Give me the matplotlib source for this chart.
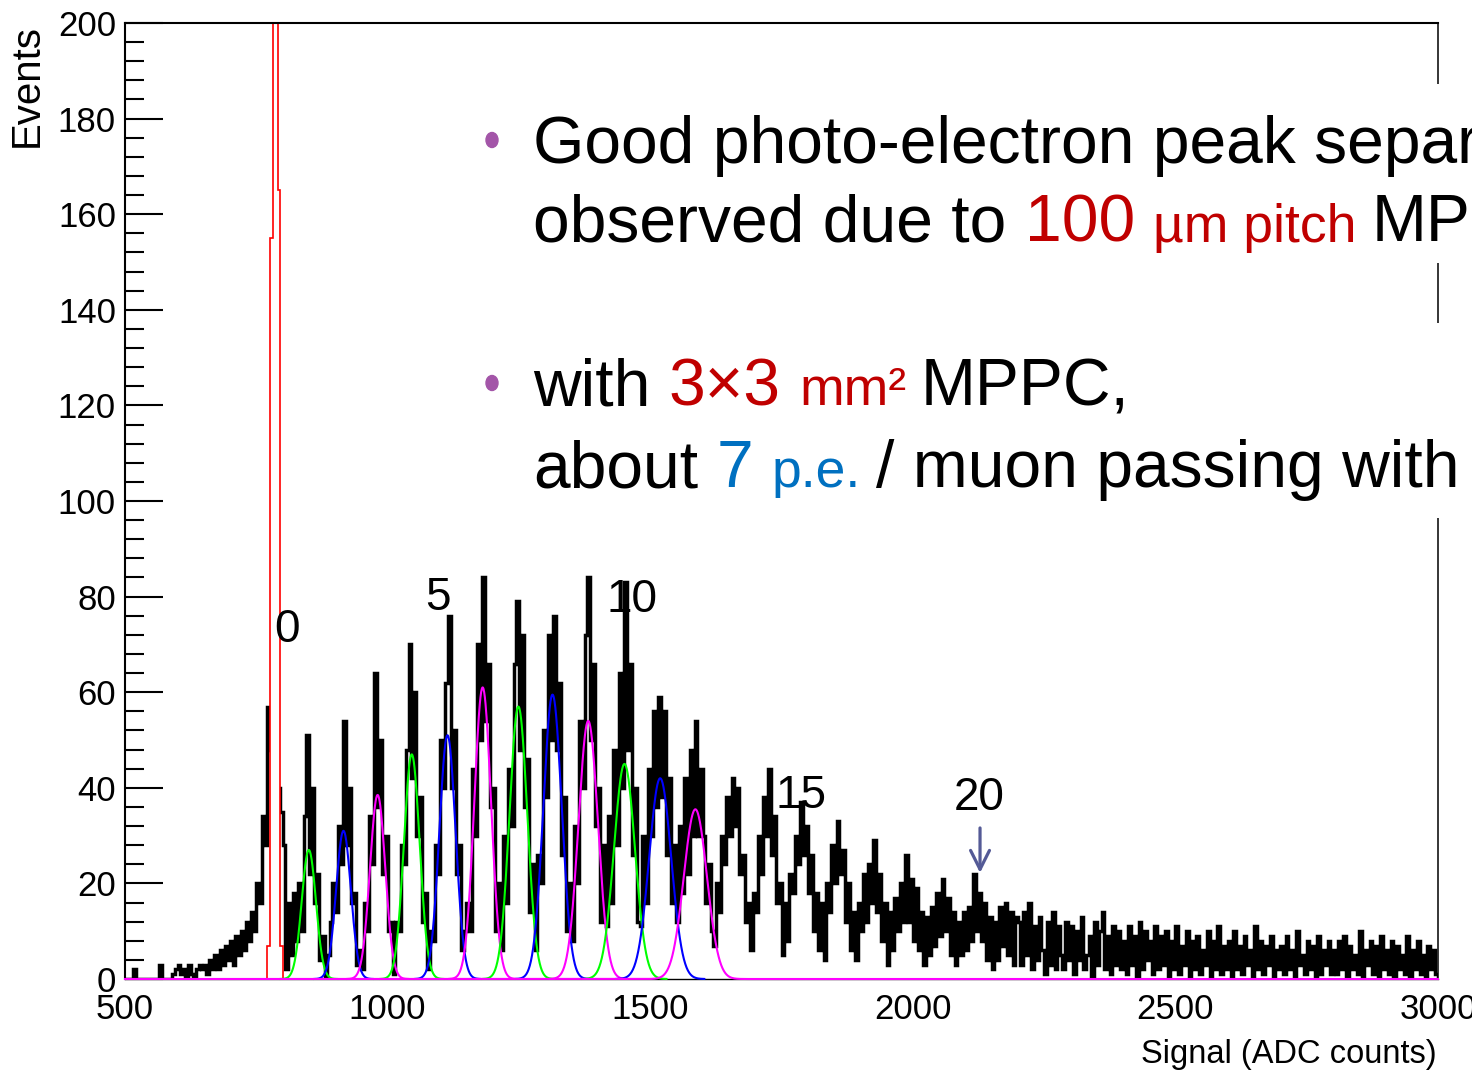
import numpy as np
import matplotlib
matplotlib.use("Agg")
import matplotlib.pyplot as plt
from matplotlib.ticker import MultipleLocator
from matplotlib.patches import Rectangle, Ellipse

# ---- data ----
# black histogram: 5 ADC bins from 500 to 3000
hist_start = 500
bin_width = 5
counts = [
    0, 0, 0, 2, 0, 0, 0, 0, 0, 0, 0, 0, 0, 3, 0, 0, 0, 0, 1, 2,            # 500
    3, 1, 2, 0, 3, 1, 0, 2, 3, 2, 3, 1, 4, 2, 5, 2, 6, 3, 7, 4,            # 600
    8, 3, 9, 5, 10, 6, 12, 8, 14, 10, 20, 16, 34, 28, 57, 48, 50, 45, 40, 35,  # 700
    28, 2, 16, 5, 18, 8, 20, 10, 34, 51, 22, 40, 16, 22, 4, 9, 0, 5, 12, 20,  # 800
    14, 32, 24, 54, 28, 40, 16, 18, 3, 6, 2, 16, 10, 34, 24, 64, 36, 50, 22, 30,  # 900
    10, 12, 1, 12, 10, 28, 24, 48, 70, 42, 60, 30, 38, 12, 18, 2, 10, 8, 28, 22,  # 1000
    50, 40, 62, 76, 40, 52, 22, 28, 6, 10, 16, 10, 44, 30, 70, 50, 84, 54, 66, 36,  # 1100
    40, 10, 20, 6, 30, 16, 44, 32, 66, 79, 48, 72, 36, 46, 14, 24, 6, 26, 20, 52,  # 1200
    38, 72, 50, 76, 48, 62, 26, 38, 10, 20, 8, 32, 20, 54, 40, 72, 84, 50, 66, 32,  # 1300
    40, 12, 28, 11, 34, 16, 48, 28, 64, 40, 83, 48, 66, 26, 40, 12, 11, 30, 16, 44,  # 1400
    30, 56, 36, 59, 38, 56, 26, 42, 16, 28, 12, 32, 18, 42, 22, 48, 30, 54, 30, 44,  # 1500
    30, 16, 24, 10, 7, 20, 14, 30, 24, 38, 30, 42, 32, 40, 22, 26, 12, 16, 6, 18,  # 1600
    14, 30, 22, 38, 30, 44, 26, 34, 16, 20, 5, 16, 8, 22, 18, 30, 24, 37, 26, 32,  # 1700
    18, 26, 10, 18, 6, 16, 4, 20, 14, 28, 20, 33, 22, 27, 12, 20, 6, 14, 4, 16,  # 1800
    10, 22, 12, 24, 16, 29, 14, 22, 8, 16, 3, 14, 6, 17, 10, 20, 12, 26, 12, 21,  # 1900
    8, 19, 6, 14, 3, 13, 5, 15, 7, 18, 9, 21, 10, 17, 5, 14, 3, 12, 5, 14,  # 2000
    6, 15, 8, 22, 10, 18, 8, 16, 4, 13, 2, 12, 4, 15, 7, 16, 5, 14, 3, 13,  # 2100
    12, 3, 14, 5, 16, 2, 11, 4, 13, 6, 1, 12, 3, 14, 2, 11, 5, 2, 12, 4,  # 2200
    11, 1, 10, 4, 13, 2, 5, 9, 0, 12, 3, 10, 14, 2, 9, 1, 11, 3, 10, 2,  # 2300
    8, 1, 11, 3, 9, 0, 12, 2, 10, 4, 8, 1, 11, 2, 9, 3, 10, 0, 8, 2,  # 2400
    11, 1, 7, 3, 10, 0, 8, 2, 9, 1, 6, 3, 10, 0, 8, 2, 11, 1, 7, 2,  # 2500
    8, 0, 10, 2, 7, 1, 9, 3, 6, 0, 11, 2, 8, 1, 7, 3, 9, 0, 6, 2,  # 2600
    7, 1, 9, 2, 6, 0, 10, 3, 5, 1, 8, 2, 7, 0, 9, 1, 6, 3, 8, 1,  # 2700
    6, 1, 8, 2, 9, 0, 7, 2, 5, 1, 10, 0, 6, 3, 8, 1, 7, 0, 9, 2,  # 2800
    6, 1, 8, 0, 7, 2, 5, 1, 9, 0, 6, 2, 8, 1, 5, 0, 7, 2, 6, 1,  # 2900
]

# red pedestal histogram
ped_edges = [771, 776, 782, 791, 796, 800]
ped_counts = [7, 155, 600, 165, 7]

# gaussian fits of the 1..12 p.e. peaks
pe_means = [850, 916, 981, 1046, 1114, 1181, 1249, 1314, 1382, 1451, 1519, 1586]
pe_heights = [27, 31, 38.5, 47, 51, 61, 57, 59.5, 54, 45, 42, 35.5]
pe_sigmas = [13.5, 14, 14.5, 15, 15.5, 16, 17, 17.5, 18.5, 20, 21, 22]
fit_colors = ["#00ff00", "#0000ff", "#ff00ff"]

# peak number labels
pe_labels = ["0", "5", "10", "15", "20"]
pe_label_x = [808, 1096, 1466, 1787, 2126]
pe_label_y = [70.5, 77.2, 76.8, 35.8, 35.4]

x_ticks = [500, 1000, 1500, 2000, 2500, 3000]
y_ticks = [0, 20, 40, 60, 80, 100, 120, 140, 160, 180, 200]

RED = "#c00000"
BLUE = "#0070c0"
BULLET = "#a355a8"
SLIDE_FONT = "Liberation Sans"

plt.rcParams["font.family"] = ["Liberation Sans", "DejaVu Sans"]

W, H = 1472, 1074
fig = plt.figure(figsize=(W / 100, H / 100), dpi=100)
ax = fig.add_axes([125 / W, 1 - 979 / H, (1438 - 125) / W, (979 - 23) / H])

# histogram
edges = hist_start + bin_width * np.arange(len(counts) + 1)
ax.stairs(counts, edges, color="black", lw=2.5, zorder=2)

# pedestal (white inside, red outline)
ax.stairs(ped_counts, ped_edges, fill=True, color="white", zorder=2.1)
ax.stairs(ped_counts, ped_edges, color="red", lw=1.2, zorder=2.2)

# fits
for i, (m, h, s) in enumerate(zip(pe_means, pe_heights, pe_sigmas)):
    if i == len(pe_means) - 1:
        xs = np.linspace(500, 3000, 4000)
    else:
        xs = np.linspace(m - 4 * s, m + 4 * s, 200)
    ax.plot(xs, h * np.exp(-0.5 * ((xs - m) / s) ** 2), color=fit_colors[i % 3],
            lw=1.5, zorder=3, clip_on=False)

ax.set_xlim(500, 3000)
ax.set_ylim(0, 200)
ax.set_xticks(x_ticks)
ax.set_xticklabels([str(v) for v in x_ticks])
ax.set_yticks(y_ticks)
ax.set_yticklabels([str(v) for v in y_ticks])
ax.yaxis.set_minor_locator(MultipleLocator(4))
ax.tick_params(axis="y", which="major", direction="in", length=27, width=1.5,
               pad=6.5, labelsize=25)
ax.tick_params(axis="y", which="minor", direction="in", length=13.5, width=1.5)
ax.tick_params(axis="x", which="both", length=0, pad=10, labelsize=25)
ax.set_axisbelow(True)
ax.spines["top"].set_linewidth(1.5)
ax.spines["left"].set_linewidth(1.5)
ax.spines["right"].set_linewidth(1.1)
ax.spines["bottom"].set_linewidth(1.0)

fig.text(27 / W, 1 - 24 / H, "Events", rotation=90, ha="center", va="top",
         fontsize=29, family=SLIDE_FONT)
fig.text(1437 / W, 1 - 1063 / H, "Signal (ADC counts)", ha="right", va="baseline",
         fontsize=23.5)

# peak labels and arrow
for s, x, y in zip(pe_labels, pe_label_x, pe_label_y):
    ax.text(x, y, s, fontsize=33, family=SLIDE_FONT, ha="center", va="baseline", zorder=6)
ax.annotate("", xy=(2128, 22.2), xytext=(2128, 31.6),
            arrowprops=dict(arrowstyle="->", color="#545a96", lw=2.3,
                            mutation_scale=34, shrinkA=0, shrinkB=0), zorder=6)

# slide text boxes over the plot
for top, bottom in [(84, 263), (323, 518)]:
    fig.add_artist(Rectangle((470 / W, 1 - bottom / H), (W - 470) / W, (bottom - top) / H,
                             transform=fig.transFigure, facecolor="white",
                             edgecolor="none", zorder=1))

MAIN = 47.5
SMALL = 38.5
r = fig.canvas.get_renderer()


def put_runs(x_px, base_px, runs):
    x = x_px
    for txt, col, size, gap in runs:
        t = fig.text(x / W, 1 - base_px / H, txt, fontsize=size, color=col,
                     family=SLIDE_FONT, ha="left", va="baseline", zorder=5)
        bb = t.get_window_extent(renderer=r)
        x = bb.x1 + gap * 0.278 * size * 100 / 72


for yb in [140, 383]:
    fig.add_artist(Ellipse((492 / W, 1 - yb / H), 12 / W, 15 / H,
                           transform=fig.transFigure, color=BULLET, zorder=5))

put_runs(533, 163, [("Good photo-electron peak separation", "black", MAIN, 0)])
put_runs(533, 242, [("observed due to", "black", MAIN, 1), ("100", RED, MAIN, 1),
                    ("µm pitch", RED, SMALL, 1), ("MPPC", "black", MAIN, 0)])
put_runs(533, 405, [("with", "black", MAIN, 1), ("3×3", RED, MAIN, 1),
                    ("mm²", RED, SMALL, 1), ("MPPC,", "black", MAIN, 0)])
put_runs(533, 487, [("about", "black", MAIN, 1), ("7", BLUE, MAIN, 1),
                    ("p.e.", BLUE, SMALL, 1), ("/ muon passing with", "black", MAIN, 0)])

fig.savefig("out.png", dpi=100)
